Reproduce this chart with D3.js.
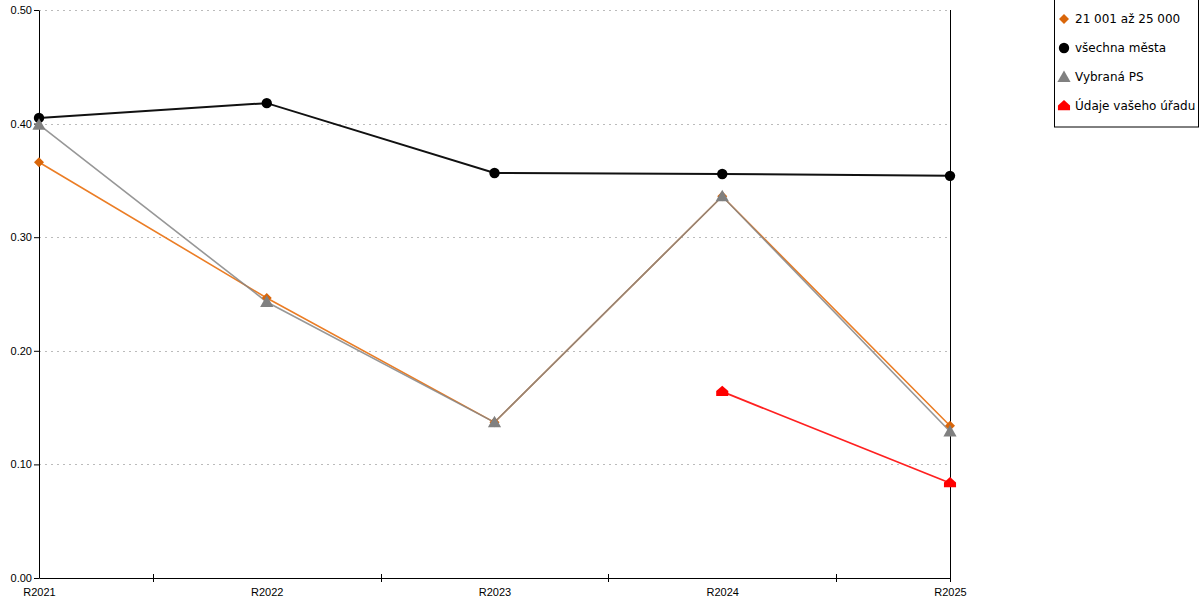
<!DOCTYPE html>
<html>
<head>
<meta charset="utf-8">
<script src="https://cdn.jsdelivr.net/npm/d3@7"></script>
<style>
  body { margin: 0; background: #fff; }
  svg { display: block; font-family: "DejaVu Sans", Verdana, sans-serif; }
</style>
</head>
<body>
<svg id="chart" width="1200" height="600"></svg>
<script>
// data
const years = ["R2021", "R2022", "R2023", "R2024", "R2025"];
const yTicks = [0, 0.1, 0.2, 0.3, 0.4, 0.5];

const sizeGroup = [0.366, 0.2465, 0.137, 0.336, 0.134];      // 21 001 až 25 000
const allCities = [0.405, 0.418, 0.3565, 0.3556, 0.354];     // všechna města
const selectedPS = [0.399, 0.243, 0.137, 0.336, 0.129];      // Vybraná PS
const yourOffice = [null, null, null, 0.164, 0.0836];        // Údaje vašeho úřadu

const seriesNames = ["21 001 až 25 000", "všechna města", "Vybraná PS", "Údaje vašeho úřadu"];

const series = [
  { name: seriesNames[0], values: sizeGroup, color: "#eb7d25", marker: "#d9660a", shape: "diamond", width: 1.6, size: 10 },
  { name: seriesNames[1], values: allCities, color: "#111", marker: "#000", shape: "circle", width: 2, size: 10 },
  { name: seriesNames[2], values: selectedPS, color: "#858585", marker: "#808080", shape: "triangle", width: 1.6, size: 11 },
  { name: seriesNames[3], values: yourOffice, color: "#ff2020", marker: "#ff0000", shape: "house", width: 1.8, size: 11 }
];

const svg = d3.select("#chart");
const margin = { top: 10, right: 250, bottom: 22, left: 39 };
const width = 1200 - margin.left - margin.right;   // 911
const height = 600 - margin.top - margin.bottom;   // 568

const x = d3.scalePoint().domain(years).range([0, width]).padding(0);
const y = d3.scaleLinear().domain([0, 0.5]).range([height, 0]);

const g = svg.append("g").attr("transform", `translate(${margin.left},${margin.top})`);

// dotted gridlines
g.append("g").selectAll("line")
  .data(yTicks.filter(d => d > 0))
  .enter().append("line")
  .attr("x1", 0).attr("x2", width)
  .attr("y1", d => Math.round(y(d)) + 0.5).attr("y2", d => Math.round(y(d)) + 0.5)
  .attr("stroke", "#bbb")
  .attr("stroke-dasharray", "2,4");

// axes
const yAxis = d3.axisLeft(y).tickValues(yTicks).tickFormat(d3.format(".2f")).tickSize(5).tickSizeOuter(0);
const yG = g.append("g").attr("class", "y axis").call(yAxis);
yG.select(".domain").attr("stroke", "#000");
yG.selectAll("text").style("font-size", "11px").attr("fill", "#000").attr("dy", "0.32em").attr("x", -7);

const xAxis = d3.axisBottom(x).tickSize(0).tickSizeOuter(0);
const xG = g.append("g").attr("class", "x axis")
  .attr("transform", `translate(0,${height})`)
  .call(xAxis);
xG.select(".domain").attr("stroke", "#000");
xG.selectAll("text").style("font-size", "11px").attr("fill", "#000").attr("y", 10).attr("dy", "0.71em");

// small ticks between categories, crossing the axis
const mids = d3.pairs(years).map(([a, b]) => (x(a) + x(b)) / 2);
xG.selectAll(".mid")
  .data(mids)
  .enter().append("line")
  .attr("class", "mid")
  .attr("x1", d => Math.round(d) + 0.5).attr("x2", d => Math.round(d) + 0.5)
  .attr("y1", -4).attr("y2", 4)
  .attr("stroke", "#000");

// right-hand vertical line
g.append("line")
  .attr("x1", width + 0.5).attr("x2", width + 0.5)
  .attr("y1", 0).attr("y2", height + 4)
  .attr("stroke", "#000");

// markers
function drawMarker(sel, shape, color, cx, cy, s) {
  if (shape === "circle") {
    sel.append("circle").attr("cx", cx).attr("cy", cy).attr("r", s * 0.52).attr("fill", color);
  } else if (shape === "diamond") {
    const r = s * 0.5;
    sel.append("path")
      .attr("d", `M${cx},${cy - r}L${cx + r},${cy}L${cx},${cy + r}L${cx - r},${cy}Z`)
      .attr("fill", color);
  } else if (shape === "triangle") {
    const r = s * 0.6;
    sel.append("path")
      .attr("d", `M${cx},${cy - r}L${cx + r},${cy + r * 0.75}L${cx - r},${cy + r * 0.75}Z`)
      .attr("fill", color);
  } else if (shape === "house") {
    const r = s * 0.55;
    sel.append("path")
      .attr("d", `M${cx},${cy - r}L${cx + r},${cy - r * 0.1}L${cx + r},${cy + r * 0.7}L${cx - r},${cy + r * 0.7}L${cx - r},${cy - r * 0.1}Z`)
      .attr("fill", color);
  }
}

const line = d3.line()
  .defined(d => d.v !== null)
  .x(d => x(d.year))
  .y(d => y(d.v));

const drawOrder = [1, 0, 2, 3];
drawOrder.forEach(i => {
  const s = series[i];
  const pts = years.map((yr, j) => ({ year: yr, v: s.values[j] }));
  g.append("path")
    .datum(pts)
    .attr("fill", "none")
    .attr("stroke", s.color)
    .attr("stroke-width", s.width)
    .attr("stroke-opacity", i === 2 ? 0.85 : 1)
    .attr("d", line);
});
drawOrder.forEach(i => {
  const s = series[i];
  const mg = g.append("g");
  years.forEach((yr, j) => {
    if (s.values[j] === null) return;
    drawMarker(mg, s.shape, s.marker, x(yr), y(s.values[j]), s.size);
  });
});

// legend
const legend = svg.append("g").attr("transform", "translate(1054,0)");
legend.append("rect")
  .attr("x", 0.5).attr("y", -0.5)
  .attr("width", 144).attr("height", 127.5)
  .attr("fill", "#fff").attr("stroke", "#000");

series.forEach((s, i) => {
  const row = legend.append("g").attr("transform", `translate(0,${19 + i * 29})`);
  drawMarker(row, s.shape, s.marker, 10, 0, s.size);
  row.append("text")
    .attr("x", 21).attr("y", 0).attr("dy", "0.35em")
    .style("font-size", "12px")
    .attr("fill", "#000")
    .text(s.name);
});
</script>
</body>
</html>
